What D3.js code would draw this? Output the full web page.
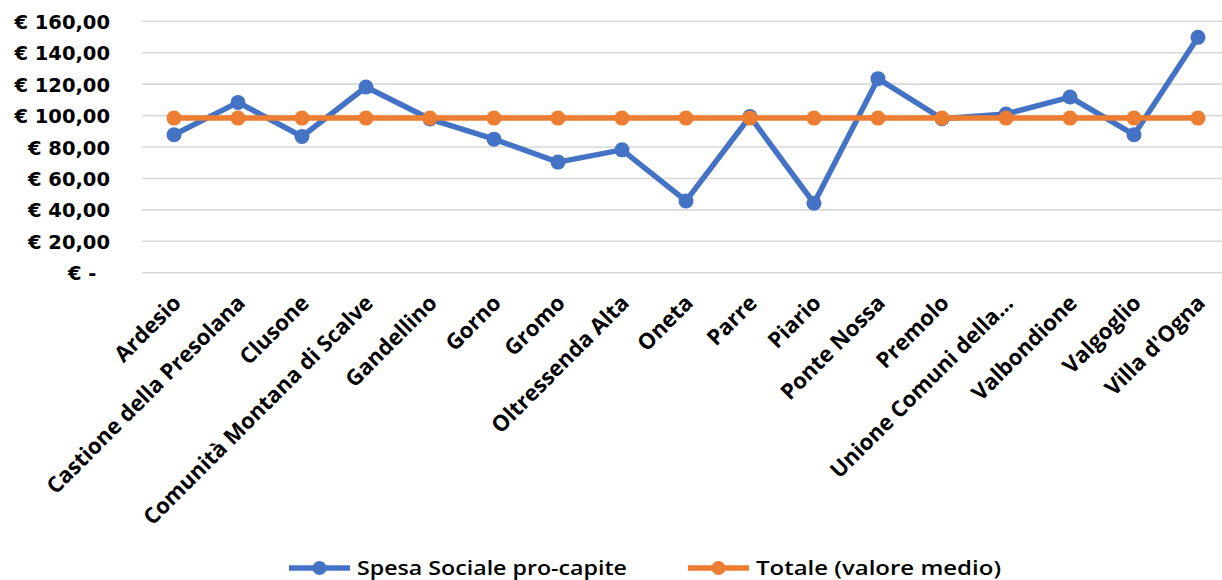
<!DOCTYPE html>
<html>
<head>
<meta charset="utf-8">
<script src="https://cdn.jsdelivr.net/npm/d3@7"></script>
<style>
  html, body { margin: 0; padding: 0; background: #fff; }
  svg { display: block; }
</style>
</head>
<body>
<svg id="chart" width="1222" height="580"></svg>
<script>
// Categories (enti) on the x axis
const categories = [
  "Ardesio", "Castione della Presolana", "Clusone", "Comunità Montana di Scalve",
  "Gandellino", "Gorno", "Gromo", "Oltressenda Alta", "Oneta", "Parre", "Piario",
  "Ponte Nossa", "Premolo", "Unione Comuni della...", "Valbondione", "Valgoglio",
  "Villa d'Ogna"
];

// Spesa sociale pro-capite (€)
const spesaProCapite = [
  87.8, 108.4, 86.7, 118.2, 97.8, 85.0, 70.4, 78.2, 45.7, 99.4, 44.2,
  123.5, 98.0, 101.0, 111.8, 87.8, 149.8
];

// Totale (valore medio) repeated for every category (€)
const valoreMedio = [
  98.4, 98.4, 98.4, 98.4, 98.4, 98.4, 98.4, 98.4, 98.4, 98.4, 98.4,
  98.4, 98.4, 98.4, 98.4, 98.4, 98.4
];

// Y axis ticks and their labels
const yTicks = [0, 20, 40, 60, 80, 100, 120, 140, 160];
const yTickLabels = ["€ -\u00a0\u00a0", "€ 20,00", "€ 40,00", "€ 60,00", "€ 80,00",
                     "€ 100,00", "€ 120,00", "€ 140,00", "€ 160,00"];

const seriesNames = ["Spesa Sociale pro-capite", "Totale (valore medio)"];
const seriesColors = ["#4472C4", "#ED7D31"];

const svg = d3.select("#chart");

const plot = { left: 142, top: 21.3, bottom: 272.7, step: 64 };

const x = d3.scaleBand()
  .domain(categories)
  .range([plot.left, plot.left + plot.step * categories.length]);

const y = d3.scaleLinear()
  .domain([0, 160])
  .range([plot.bottom, plot.top]);

// Horizontal gridlines
svg.append("g")
  .selectAll("line")
  .data(yTicks)
  .join("line")
  .attr("x1", plot.left)
  .attr("x2", plot.left + plot.step * categories.length)
  .attr("y1", d => y(d))
  .attr("y2", d => y(d))
  .attr("stroke", "#d9d9d9")
  .attr("stroke-width", 1.6);

// Y axis labels
const yAxis = d3.axisLeft(y)
  .tickValues(yTicks)
  .tickSize(0)
  .tickPadding(0)
  .tickFormat((d, i) => yTickLabels[i]);

svg.append("g")
  .attr("transform", "translate(110,0)")
  .call(yAxis)
  .call(g => g.select(".domain").remove())
  .selectAll("text")
  .attr("font-family", "'DejaVu Sans', sans-serif")
  .attr("font-weight", "bold")
  .attr("font-size", 19.5)
  .attr("fill", "#000")
  .attr("dy", "0.36em")
  .style("white-space", "pre");

// X axis category labels, rotated
const xAxis = d3.axisBottom(x).tickSize(0).tickPadding(0);
const xg = svg.append("g")
  .attr("transform", "translate(0,299)")
  .call(xAxis);
xg.select(".domain").remove();
xg.selectAll("text")
  .attr("font-family", "'Open Sans', sans-serif")
  .attr("font-weight", "bold")
  .attr("font-size", 22)
  .attr("fill", "#000")
  .attr("text-anchor", "end")
  .attr("y", 0)
  .attr("dy", "0.35em")
  .attr("transform", "translate(3,0) rotate(-45)");

const cx = d => x(d) + x.bandwidth() / 2;

function drawSeries(values, color) {
  const pts = categories.map((c, i) => [cx(c), y(values[i])]);
  svg.append("path")
    .datum(pts)
    .attr("d", d3.line())
    .attr("fill", "none")
    .attr("stroke", color)
    .attr("stroke-width", 5.5)
    .attr("stroke-linejoin", "round");
  svg.append("g")
    .selectAll("circle")
    .data(pts)
    .join("circle")
    .attr("cx", d => d[0])
    .attr("cy", d => d[1])
    .attr("r", 7.5)
    .attr("fill", color);
}

drawSeries(spesaProCapite, seriesColors[0]);
drawSeries(valoreMedio, seriesColors[1]);

// Legend
const legendItems = [
  { name: seriesNames[0], color: seriesColors[0], x0: 289, width: 270 },
  { name: seriesNames[1], color: seriesColors[1], x0: 688, width: 245 }
];
const legendY = 568;
const lg = svg.append("g");
legendItems.forEach(it => {
  lg.append("line")
    .attr("x1", it.x0).attr("x2", it.x0 + 61)
    .attr("y1", legendY).attr("y2", legendY)
    .attr("stroke", it.color).attr("stroke-width", 5.5);
  lg.append("circle")
    .attr("cx", it.x0 + 30.5).attr("cy", legendY)
    .attr("r", 7).attr("fill", it.color);
  lg.append("text")
    .attr("x", it.x0 + 68)
    .attr("y", legendY)
    .attr("dy", "0.36em")
    .attr("font-family", "'Open Sans', sans-serif")
    .attr("font-weight", 600)
    .attr("font-size", 19)
    .attr("fill", "#000")
    .attr("textLength", it.width)
    .attr("lengthAdjust", "spacingAndGlyphs")
    .text(it.name);
});
</script>
</body>
</html>
